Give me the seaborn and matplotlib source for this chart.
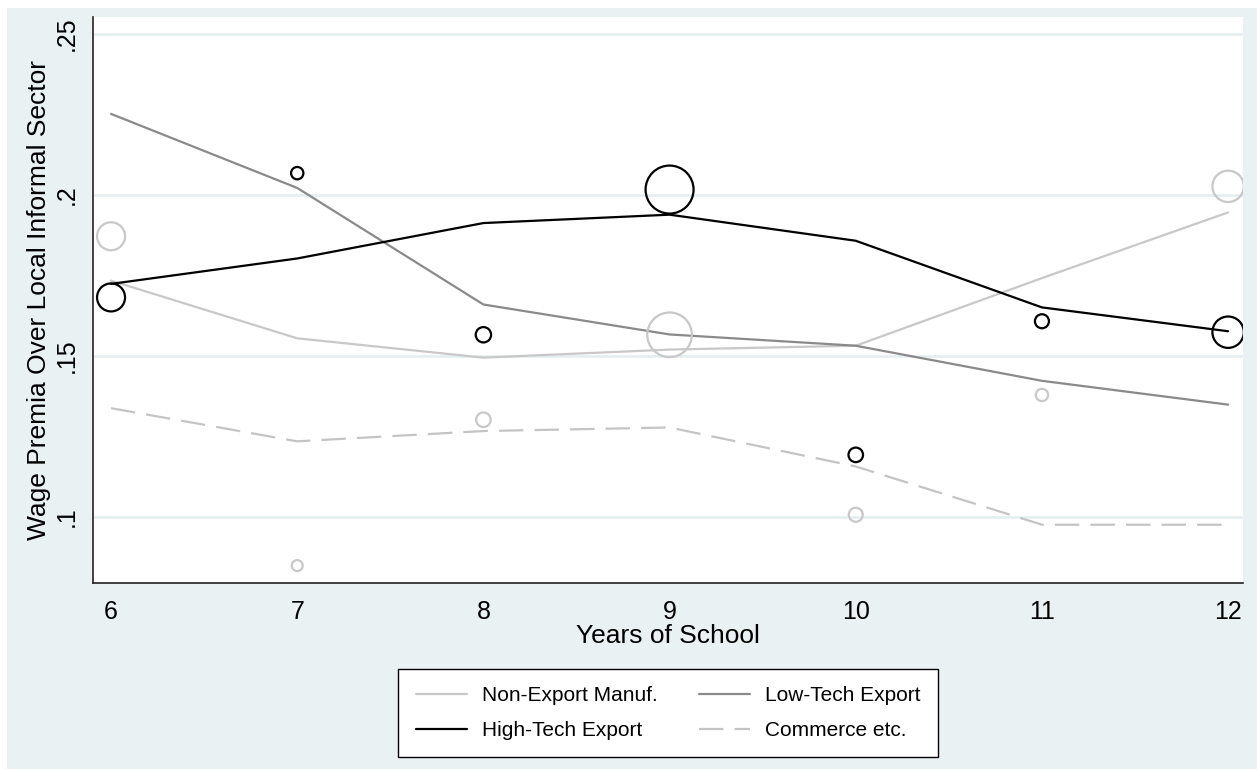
import numpy as np
import pandas as pd
import matplotlib
matplotlib.use("Agg")
import matplotlib.pyplot as plt
from matplotlib.patches import Rectangle
import seaborn as sns

# ------------------------------------------
# Data
# ------------------------------------------
years = [6, 7, 8, 9, 10, 11, 12]

non_export = [0.1734, 0.1555, 0.1495, 0.1520, 0.1532, 0.1742, 0.1946]
low_tech = [0.2252, 0.2022, 0.1660, 0.1567, 0.1532, 0.1423, 0.1349]
high_tech = [0.1724, 0.1803, 0.1913, 0.1939, 0.1858, 0.1651, 0.1577]
commerce = [0.1338, 0.1235, 0.1267, 0.1278, 0.1157, 0.0976, 0.0976]

# raw cell means, bubble area = cell weight
high_tech_pts = [0.1682, 0.2068, 0.1566, 0.2017, 0.1193, 0.1608, 0.1574]
high_tech_wt = [196, 38, 59, 576, 53, 49, 246]
non_export_pts = [0.1872, 0.0849, 0.1302, 0.1566, 0.1007, 0.1379, 0.2027]
non_export_wt = [196, 30, 53, 497, 49, 38, 246]

y_ticks = [0.10, 0.15, 0.20, 0.25]
y_tick_labels = [".1", ".15", ".2", ".25"]

# ------------------------------------------
# Style
# ------------------------------------------
sns.set_style("white")
plt.rcParams["font.family"] = ["Liberation Sans", "DejaVu Sans"]
plt.rcParams["text.color"] = "black"
plt.rcParams["axes.labelcolor"] = "black"

W, H = 1257, 769
fig = plt.figure(figsize=(W / 100, H / 100), dpi=100)
fig.patch.set_facecolor("white")
fig.patches.append(
    Rectangle((7 / W, -0.1), 2, 1.1 - 8 / H, transform=fig.transFigure,
              facecolor="#eaf1f3", edgecolor="none", zorder=-10)
)

ax = fig.add_axes([93 / W, 1 - 583 / H, 1150 / W, 566 / H])
ax.set_facecolor("white")

# grid lines
for v in y_ticks:
    ax.axhline(v, color="#e4edf0", lw=1.8, zorder=0)

# ------------------------------------------
# Weighted scatter
# ------------------------------------------
pts = pd.DataFrame({
    "year": years * 2,
    "value": high_tech_pts + non_export_pts,
    "weight": high_tech_wt + non_export_wt,
    "group": ["High-Tech Export"] * 7 + ["Non-Export Manuf."] * 7,
})

sns.scatterplot(
    data=pts[pts["group"] == "Non-Export Manuf."],
    x="year", y="value", size="weight",
    sizes=(0, 2.0736 * 600), size_norm=(0, 600),
    facecolor="none", edgecolor="#c8c8c8", linewidth=1.6,
    legend=False, ax=ax, zorder=3,
)
sns.scatterplot(
    data=pts[pts["group"] == "High-Tech Export"],
    x="year", y="value", size="weight",
    sizes=(0, 2.0736 * 600), size_norm=(0, 600),
    facecolor="none", edgecolor="black", linewidth=1.6,
    legend=False, ax=ax, zorder=4,
)

# ------------------------------------------
# Lines
# ------------------------------------------
sns.lineplot(x=years, y=non_export, color="#c8c8c8", lw=1.6, ax=ax, zorder=2)
sns.lineplot(x=years, y=low_tech, color="#8a8a8a", lw=1.6, ax=ax, zorder=2)
sns.lineplot(x=years, y=high_tech, color="black", lw=1.6, ax=ax, zorder=5)
sns.lineplot(x=years, y=commerce, color="#c4c4c4", lw=1.6, ax=ax, zorder=2)
ax.lines[-1].set_dashes((11, 5))

lines = ax.lines
h_non, h_low, h_high, h_com = lines[-4], lines[-3], lines[-2], lines[-1]

# ------------------------------------------
# Axes
# ------------------------------------------
ax.set_xlim(5.903, 12.08)
ax.set_ylim(0.0795, 0.2553)
ax.set_xticks(years)
ax.set_xticklabels([str(y) for y in years])
ax.set_yticks(y_ticks)
ax.set_yticklabels(y_tick_labels, rotation=90, va="center")

for s in ["top", "right"]:
    ax.spines[s].set_visible(False)
for s in ["left", "bottom"]:
    ax.spines[s].set_color("#222222")
    ax.spines[s].set_linewidth(1.2)

ax.tick_params(axis="both", direction="out", length=7, width=1.2,
               color="#222222", labelsize=18, labelcolor="black")
ax.tick_params(axis="x", pad=5)
ax.tick_params(axis="y", pad=3)

ax.set_xlabel("Years of School", fontsize=19, labelpad=0, color="black")
ax.set_ylabel("Wage Premia Over Local Informal Sector", fontsize=19,
              labelpad=3, color="black")

# ------------------------------------------
# Legend
# ------------------------------------------
leg = fig.legend(
    [h_non, h_high, h_low, h_com],
    ["Non-Export Manuf.", "High-Tech Export", "Low-Tech Export", "Commerce etc."],
    loc="center", bbox_to_anchor=(668 / W, 1 - 713 / H),
    ncol=2, fontsize=15, frameon=True, fancybox=False,
    handlelength=2.45, handletextpad=0.72, columnspacing=2.0,
    labelspacing=0.75, borderpad=0.82,
)
for t in leg.get_texts():
    t.set_color("black")
leg.get_frame().set_edgecolor("black")
leg.get_frame().set_linewidth(1.0)
leg.get_frame().set_facecolor("white")
leg.get_frame().set_alpha(1)

plt.savefig("out.png", dpi=100, facecolor=fig.get_facecolor())
plt.close()
